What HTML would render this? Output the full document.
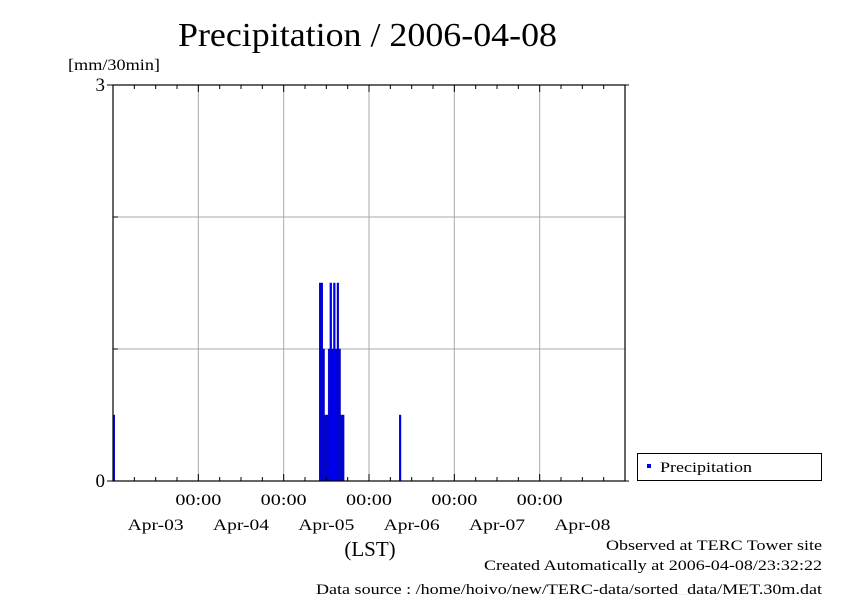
<!DOCTYPE html>
<html><head><meta charset="utf-8"><style>
body{margin:0;background:#fff;font-family:"Liberation Serif",serif;}
svg text{font-family:"Liberation Serif",serif;fill:#000}
</style></head><body>
<svg width="842" height="595" xmlns="http://www.w3.org/2000/svg">
<text x="178" y="46" font-size="34" textLength="379" lengthAdjust="spacingAndGlyphs">Precipitation / 2006-04-08</text>
<text x="68" y="70" font-size="16" textLength="92" lengthAdjust="spacingAndGlyphs">[mm/30min]</text>
<g id="grid"></g>
<g id="bars"></g>
<rect x="113" y="85" width="512" height="396" fill="none" stroke="#000" stroke-width="1.2"/>
<g id="ticks"></g>
<g id="labels"></g>
<text x="370" y="556" font-size="21" text-anchor="middle">(LST)</text>
<rect x="637.5" y="453.5" width="184" height="27" fill="#fff" stroke="#000"/>
<rect x="647" y="464" width="4" height="4" fill="#0000ff"/>
<text x="660" y="472" font-size="15" textLength="92" lengthAdjust="spacingAndGlyphs">Precipitation</text>
<text x="606" y="550" font-size="15" textLength="216" lengthAdjust="spacingAndGlyphs">Observed at TERC Tower site</text>
<text x="484" y="570" font-size="15" textLength="338" lengthAdjust="spacingAndGlyphs">Created Automatically at 2006-04-08/23:32:22</text>
<text x="316" y="594" font-size="15" textLength="506" lengthAdjust="spacingAndGlyphs">Data source : /home/hoivo/new/TERC-data/sorted_data/MET.30m.dat</text>
</svg>
<script>
const days=["Apr-03","Apr-04","Apr-05","Apr-06","Apr-07","Apr-08"];
const yTicks=[0,3];
const barIndex=[0,116,117,118,119,120,121,122,123,124,125,126,127,128,129,161];
const barValue=[0.5,1.5,1.5,1.0,0.5,0.5,1.0,1.5,1.0,1.5,1.0,1.5,1.0,0.5,0.5,0.5];
const X0=113,X1=625,Y0=481,Y1=85,NS=days.length*48,YMAX=3;
const xs=i=>X0+i*(X1-X0)/NS;
const ys=v=>Y0-v*(Y0-Y1)/YMAX;
const NS_="http://www.w3.org/2000/svg";
function mk(t,a,p){const e=document.createElementNS(NS_,t);for(const k in a)e.setAttribute(k,a[k]);document.getElementById(p).appendChild(e);return e;}
for(let d=1;d<days.length;d++){const x=xs(d*48);
const g=mk('line',{x1:x,x2:x,y1:Y1,y2:Y0,stroke:'#aaa','stroke-width':1},'grid');

}
for(let k=1;k<3;k++){const y=ys(k);
const g=mk('line',{x1:X0,x2:X1,y1:y,y2:y,stroke:'#aaa','stroke-width':1},'grid');

}
const bw=(X1-X0)/NS;
barIndex.forEach((idx,j)=>{const v=barValue[j];
const r=mk('rect',{x:xs(idx),y:ys(v),width:bw,height:Y0-ys(v),fill:'#0000ee',stroke:'#0000aa','stroke-width':0.4},'bars');

});
for(let h=0;h<=days.length*4;h++){const x=xs(h*12);const L=h%4==0?7:4;
[[Y1,Y1+L],[Y0,Y0-L]].forEach(p=>{const t=mk('line',{x1:x,x2:x,y1:p[0],y2:p[1],stroke:'#000','stroke-width':1},'ticks');

});}
yTicks.forEach(v=>{const y=ys(v);
const t=mk('line',{x1:X0-6,x2:X0,y1:y,y2:y,stroke:'#000'},'ticks');


const t2=mk('line',{x1:X1,x2:X1+4,y1:y,y2:y,stroke:'#000'},'ticks');


const l=mk('text',{x:X0-8,y:y+6,'font-size':19,'text-anchor':'end'},'labels');l.textContent=v;

});
for(let k=1;k<3;k++){const y=ys(k);
const t=mk('line',{x1:X0,x2:X0+5,y1:y,y2:y,stroke:'#000'},'ticks');

}
days.forEach((d,i)=>{
if(i>0){const l=mk('text',{x:xs(i*48)-23,y:505,'font-size':16,textLength:46,lengthAdjust:'spacingAndGlyphs'},'labels');l.textContent='00:00';

}
const l2=mk('text',{x:xs(i*48+24)-28,y:530,'font-size':16,textLength:56,lengthAdjust:'spacingAndGlyphs'},'labels');l2.textContent=d;

});
</script>
</body></html>
